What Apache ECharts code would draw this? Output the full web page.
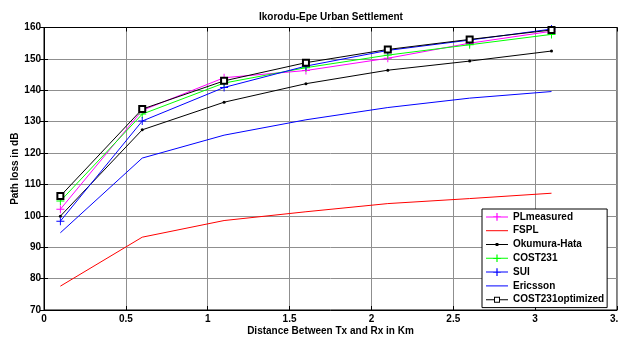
<!DOCTYPE html>
<html><head><meta charset="utf-8">
<script src="https://cdn.jsdelivr.net/npm/echarts@6/dist/echarts.min.js"></script>
<style>html,body{margin:0;padding:0;background:#fff}#c{width:618px;height:337px}</style>
</head><body><div id="c"></div>
<script>
const distances = [0.1, 0.6, 1.1, 1.6, 2.1, 2.6, 3.1];
const plMeasured = [102.1, 133.6, 144.0, 146.3, 150.2, 155.0, 158.8];
const fspl = [77.6, 93.2, 98.5, 101.3, 103.9, 105.5, 107.2];
const okumuraHata = [99.9, 127.4, 136.2, 142.1, 146.4, 149.3, 152.5];
const cost231 = [104.7, 132.4, 142.3, 147.2, 151.2, 154.5, 157.8];
const sui = [98.3, 130.2, 140.9, 147.7, 152.7, 156.0, 159.5];
const ericsson = [94.6, 118.4, 125.7, 130.6, 134.5, 137.5, 139.6];
const cost231Optimized = [106.3, 134.0, 143.0, 148.8, 153.0, 156.2, 159.2];
const seriesNames = ['PLmeasured', 'FSPL', 'Okumura-Hata', 'COST231', 'SUI', 'Ericsson', 'COST231optimized'];
const titleText = 'Ikorodu-Epe Urban Settlement';
const xName = 'Distance Between Tx and Rx in Km';
const yName = 'Path loss in dB';

const pts = arr => arr.map((v, i) => [distances[i], v]);
const plus = 'path://M4.4,0h1.2v4.4h4.4v1.2h-4.4v4.4h-1.2v-4.4h-4.4v-1.2h4.4z';
const FONT = 'Liberation Sans, Arial, sans-serif';

// legend icons (22 x 10 box)
const BOX = 'M0,0M22,10';
const LINE = 'M0,4.5h22v1h-22z';
const iconLine = 'path://' + BOX + LINE;
const iconPlus = 'path://' + BOX + LINE + 'M10.4,1.2h1.2v7.6h-1.2zM7.2,4.4h7.6v1.2h-7.6z';
const iconDot = 'path://' + BOX + LINE + 'M9.6,3.6h2.8v2.8h-2.8z';
const iconSquare = 'path://' + BOX + 'M0,4.5h8v1h-8zM14,4.5h8v1h-8zM8,2h6v6h-6zM9,3v4h4v-4z';
const legendIcons = [iconPlus, iconLine, iconDot, iconPlus, iconPlus, iconLine, iconSquare];

function mk(name, data, color, symbol, size) {
  return {
    name, type: 'line', data: pts(data), symbol: symbol || 'none', symbolSize: size || 0,
    showSymbol: !!symbol, lineStyle: { color, width: 1 },
    itemStyle: { color, borderWidth: symbol === 'emptyRect' ? 1 : 0, borderColor: color },
    emphasis: { disabled: true }, animation: false, z: 2
  };
}

const chart = echarts.init(document.getElementById('c'), null, { renderer: 'canvas' });
chart.setOption({
  animation: false,
  title: { text: titleText, left: 254, top: 7, textStyle: { fontFamily: FONT, fontSize: 10, fontWeight: 'bold', color: '#000' } },
  grid: { left: 44, right: 1, top: 27.5, bottom: 27, containLabel: false, outerBoundsMode: 'none', show: true, borderColor: '#000', borderWidth: 1 },
  legend: {
    orient: 'vertical', left: 482, top: 209, backgroundColor: '#fff', borderColor: '#000', borderWidth: 1,
    padding: [1, 3, 1, 4], itemWidth: 22, itemHeight: 10, itemGap: 0, symbolKeepAspect: false,
    itemStyle: { borderWidth: 0 },
    textStyle: { fontFamily: FONT, fontSize: 10, fontWeight: 'bold', color: '#000', lineHeight: 13.8 },
    data: seriesNames.map((n, i) => ({ name: n, icon: legendIcons[i], symbolKeepAspect: false }))
  },
  xAxis: [{
    type: 'value', min: 0, max: 3.5, interval: 0.5,
    name: xName, nameLocation: 'middle', nameGap: 16, nameMoveOverlap: false,
    nameTextStyle: { fontFamily: FONT, fontSize: 10, fontWeight: 'bold', color: '#000' },
    axisLine: { onZero: false, lineStyle: { color: '#000', width: 1 } },
    axisTick: { inside: true, length: 4, lineStyle: { color: '#000' } },
    axisLabel: { margin: 4, fontFamily: FONT, fontSize: 10, fontWeight: 'bold', color: '#000',
      formatter: v => String(v), showMaxLabel: true },
    splitLine: { show: true, lineStyle: { color: '#8f8f8f', width: 1 } }
  }, {
    type: 'value', min: 0, max: 3.5, interval: 0.5, position: 'top',
    axisLine: { show: true, lineStyle: { color: '#000' } },
    axisTick: { inside: true, length: 4, lineStyle: { color: '#000' } },
    axisLabel: { show: false }, splitLine: { show: false }
  }],
  yAxis: [{
    type: 'value', min: 70, max: 160, interval: 10,
    name: yName, nameLocation: 'middle', nameGap: 24, nameMoveOverlap: false,
    nameTextStyle: { fontFamily: FONT, fontSize: 10, fontWeight: 'bold', color: '#000' },
    axisLine: { show: true, onZero: false, lineStyle: { color: '#000', width: 1 } },
    axisTick: { show: true, inside: true, length: 4, lineStyle: { color: '#000' } },
    axisLabel: { margin: 3, fontFamily: FONT, fontSize: 10, fontWeight: 'bold', color: '#000' },
    splitLine: { show: true, lineStyle: { color: '#8f8f8f', width: 1 } }
  }, {
    type: 'value', min: 70, max: 160, interval: 10, position: 'right',
    axisLine: { show: true, lineStyle: { color: '#000' } },
    axisTick: { show: true, inside: true, length: 4, lineStyle: { color: '#000' } },
    axisLabel: { show: false }, splitLine: { show: false }
  }],
  series: [
    mk(seriesNames[0], plMeasured, '#ff00ff', plus, 8),
    mk(seriesNames[1], fspl, '#ff0000'),
    mk(seriesNames[2], okumuraHata, '#000000', 'circle', 3),
    mk(seriesNames[3], cost231, '#00ff00', plus, 8),
    mk(seriesNames[4], sui, '#0000ff', plus, 8),
    mk(seriesNames[5], ericsson, '#0000ff'),
    mk(seriesNames[6], cost231Optimized, '#000000', 'emptyRect', 6)
  ]
});
</script></body></html>
